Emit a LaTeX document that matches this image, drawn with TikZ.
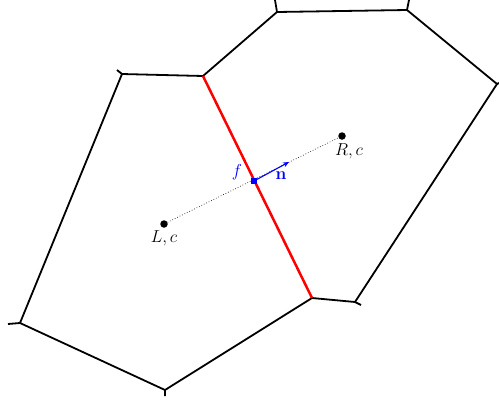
\documentclass[tikz,border=0pt]{standalone}
\usetikzlibrary{arrows.meta}
\begin{document}
\begin{tikzpicture}[x=1pt,y=-1pt,
  cell/.style={line width=1.8pt,black,line join=miter},
  face/.style={line width=2.5pt,red},
  ctr/.style={circle,fill=black,inner sep=0pt,minimum size=7.5pt},
  lab/.style={font=\fontsize{16}{19}\selectfont,inner sep=0pt}]
\useasboundingbox (0,0) rectangle (499,402);
% vertices
\coordinate (A) at (203,76);
\coordinate (B) at (312,298);
\coordinate (C) at (165,390);
\coordinate (D) at (20,323);
\coordinate (E) at (122,74);
\coordinate (F) at (277,12);
\coordinate (G) at (407,10);
\coordinate (H) at (497,84);
\coordinate (I) at (355,302);
% stub ends
\coordinate (Cs) at (165,396);
\coordinate (Ds) at (8,324);
\coordinate (Es) at (117,70);
\coordinate (Fs) at (275,0);
\coordinate (Gs) at (409,0);
\coordinate (Hs) at (499,83);
\coordinate (Is) at (361,305);
% cells
\draw[cell] (A) -- (E) -- (D) -- (C) -- (B);
\draw[cell] (A) -- (F) -- (G) -- (H) -- (I) -- (B);
\draw[cell] (C) -- (Cs) (D) -- (Ds) (E) -- (Es) (F) -- (Fs) (G) -- (Gs) (H) -- (Hs) (I) -- (Is);
\draw[face] (A) -- (B);
% centroids
\node[ctr] (L) at (164,224) {};
\node[ctr] (R) at (342,136) {};
\draw[dotted,line width=0.7pt,black!80!brown] (L) -- (R);
\node[lab] at (164,238) {$L,c$};
\node[lab] at (349,151) {$R,c$};
% face centre and normal
\node[fill=blue,inner sep=0pt,minimum size=6.5pt] (f) at (254,181) {};
\coordinate (n) at (289,162);
\draw[blue,line width=1.1pt,-{Stealth[length=6pt,width=5pt]}] (f.center) -- (n);
\node[lab,blue] at (237,172) {$f$};
\node[lab,blue] at (281,176) {$\mathbf{n}$};
\end{tikzpicture}
\end{document}
